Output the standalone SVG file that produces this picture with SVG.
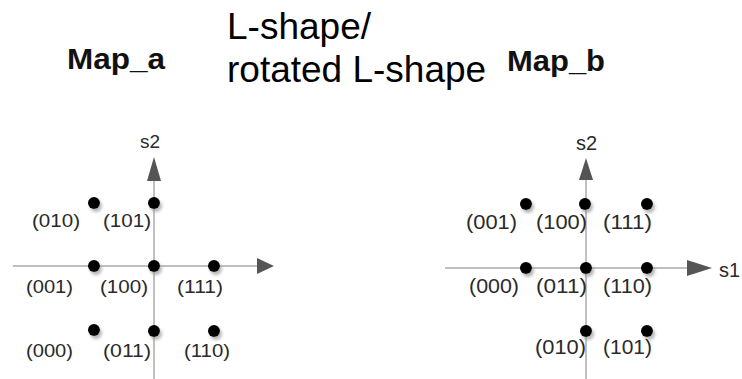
<svg xmlns="http://www.w3.org/2000/svg" width="742" height="379" viewBox="0 0 742 379">
<style>
.title{font-family:"Liberation Sans",Arial,sans-serif;font-weight:bold;font-size:30px;fill:#111}
.head{font-family:"Liberation Sans",Arial,sans-serif;font-size:37px;fill:#000}
.lbl{font-family:"Liberation Sans",Arial,sans-serif;font-size:19px;fill:#2a2a2a}
.lbr{font-family:"Liberation Sans",Arial,sans-serif;font-size:20px;fill:#2a2a2a}
.ax{stroke:#aaa;stroke-width:1.5;fill:none}
.arr{fill:#555}
.dot{fill:#000;filter:url(#sh)}
</style>
<defs>
<filter id="sh" x="-50%" y="-50%" width="200%" height="200%">
<feDropShadow dx="2" dy="3" stdDeviation="1.5" flood-color="#888" flood-opacity="0.6"/>
</filter>
</defs>
<g id="titles">
<text class="title" x="67" y="69" textLength="98" lengthAdjust="spacingAndGlyphs">Map_a</text>
<text class="head" x="227" y="39">L-shape/</text>
<text class="head" x="227" y="82">rotated L-shape</text>
<text class="title" x="507" y="71" textLength="98" lengthAdjust="spacingAndGlyphs">Map_b</text>
</g>
<g id="connectors">
<line class="ax" x1="13" y1="266" x2="258" y2="266"/>
<polygon class="arr" points="257,258 274,266 257,274"/>
<line class="ax" x1="154" y1="180" x2="154" y2="379"/>
<polygon class="arr" points="147,181 154,157 161,181"/>
<line class="ax" x1="445" y1="268" x2="688" y2="268"/>
<polygon class="arr" points="687,260 712,268 687,276"/>
<line class="ax" x1="586" y1="179" x2="586" y2="379"/>
<polygon class="arr" points="579,180 586,158 593,180"/>
</g>
<g id="axis-labels">
<text class="lbl" x="140" y="148">s2</text>
<text class="lbr" x="576" y="150">s2</text>
<text class="lbr" x="719" y="277">s1</text>
</g>
<g id="map_a">
<g id="a010"><circle class="dot" cx="94" cy="203" r="6"/><text class="lbl" x="32" y="227" textLength="48" lengthAdjust="spacingAndGlyphs">(010)</text></g>
<g id="a101"><circle class="dot" cx="154" cy="203" r="6"/><text class="lbl" x="103" y="227" textLength="48" lengthAdjust="spacingAndGlyphs">(101)</text></g>
<g id="a001"><circle class="dot" cx="94" cy="266" r="6"/><text class="lbl" x="26" y="293" textLength="47" lengthAdjust="spacingAndGlyphs">(001)</text></g>
<g id="a100"><circle class="dot" cx="154" cy="266" r="6"/><text class="lbl" x="100" y="293" textLength="48" lengthAdjust="spacingAndGlyphs">(100)</text></g>
<g id="a111"><circle class="dot" cx="214" cy="266" r="6"/><text class="lbl" x="177" y="293" textLength="46" lengthAdjust="spacingAndGlyphs">(111)</text></g>
<g id="a000"><circle class="dot" cx="94" cy="330" r="6"/><text class="lbl" x="26" y="357" textLength="47" lengthAdjust="spacingAndGlyphs">(000)</text></g>
<g id="a011"><circle class="dot" cx="154" cy="331" r="6"/><text class="lbl" x="103" y="357" textLength="48" lengthAdjust="spacingAndGlyphs">(011)</text></g>
<g id="a110"><circle class="dot" cx="214" cy="331" r="6"/><text class="lbl" x="184" y="357" textLength="46" lengthAdjust="spacingAndGlyphs">(110)</text></g>
</g>
<g id="map_b">
<g id="b001"><circle class="dot" cx="526" cy="204" r="6"/><text class="lbr" x="466" y="229" textLength="51" lengthAdjust="spacingAndGlyphs">(001)</text></g>
<g id="b100"><circle class="dot" cx="585" cy="204" r="6"/><text class="lbr" x="536" y="229" textLength="51" lengthAdjust="spacingAndGlyphs">(100)</text></g>
<g id="b111"><circle class="dot" cx="647" cy="204" r="6"/><text class="lbr" x="603" y="229" textLength="49" lengthAdjust="spacingAndGlyphs">(111)</text></g>
<g id="b000"><circle class="dot" cx="526" cy="268" r="6"/><text class="lbr" x="469" y="293" textLength="50" lengthAdjust="spacingAndGlyphs">(000)</text></g>
<g id="b011"><circle class="dot" cx="586" cy="268" r="6"/><text class="lbr" x="536" y="293" textLength="51" lengthAdjust="spacingAndGlyphs">(011)</text></g>
<g id="b110"><circle class="dot" cx="647" cy="268" r="6"/><text class="lbr" x="603" y="293" textLength="49" lengthAdjust="spacingAndGlyphs">(110)</text></g>
<g id="b010"><circle class="dot" cx="586" cy="331" r="6"/><text class="lbr" x="535" y="354" textLength="51" lengthAdjust="spacingAndGlyphs">(010)</text></g>
<g id="b101"><circle class="dot" cx="647" cy="331" r="6"/><text class="lbr" x="603" y="354" textLength="49" lengthAdjust="spacingAndGlyphs">(101)</text></g>
</g>
</svg>
